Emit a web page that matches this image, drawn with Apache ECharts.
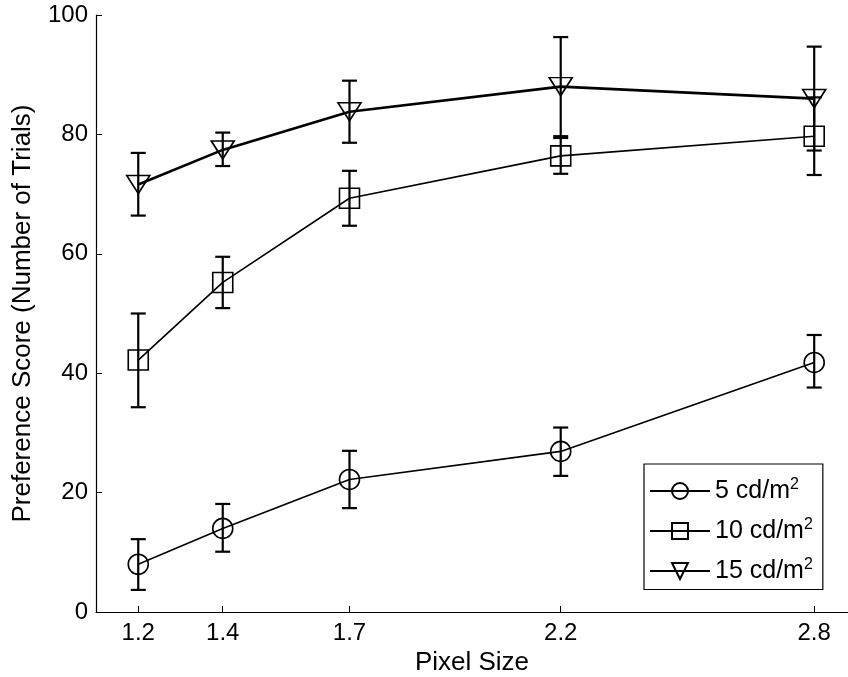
<!DOCTYPE html>
<html>
<head>
<meta charset="utf-8">
<script src="https://cdn.jsdelivr.net/npm/echarts@6/dist/echarts.min.js"></script>
<style>
html, body { margin: 0; padding: 0; background: #fff; }
#chart { width: 848px; height: 677px; }
</style>
</head>
<body>
<div id="chart"></div>
<script>
let pixelSizes = [1.2, 1.4, 1.7, 2.2, 2.8];
let seriesNames = ['5 cd/m', '10 cd/m', '15 cd/m'];

let score5 = [8.0, 14.0, 22.2, 26.9, 41.8];
let low5 = [3.7, 10.1, 17.4, 22.8, 37.6];
let high5 = [12.2, 18.1, 27.0, 30.9, 46.4];

let score10 = [42.2, 55.2, 69.3, 76.4, 79.7];
let low10 = [34.3, 50.9, 64.7, 73.4, 73.2];
let high10 = [50.0, 59.5, 73.9, 79.4, 86.2];

let score15 = [71.6, 77.4, 83.8, 88.0, 86.0];
let low15 = [66.4, 74.7, 78.6, 79.7, 77.3];
let high15 = [76.9, 80.3, 89.0, 96.3, 94.7];

let yTicks = [0, 20, 40, 60, 80, 100];

function pairs(ys) {
    return pixelSizes.map(function (x, i) { return [x, ys[i]]; });
}

function errData(lo, hi) {
    return pixelSizes.map(function (x, i) { return [x, lo[i], hi[i]]; });
}

function renderErr(params, api) {
    let x = api.value(0);
    let p1 = api.coord([x, api.value(1)]);
    let p2 = api.coord([x, api.value(2)]);
    let w = 7.5;
    let st = { stroke: '#000', lineWidth: 2.2 };
    return {
        type: 'group',
        children: [
            { type: 'line', shape: { x1: p1[0], y1: p1[1], x2: p2[0], y2: p2[1] }, style: st },
            { type: 'line', shape: { x1: p1[0] - w, y1: p1[1], x2: p1[0] + w, y2: p1[1] }, style: st },
            { type: 'line', shape: { x1: p2[0] - w, y1: p2[1], x2: p2[0] + w, y2: p2[1] }, style: st }
        ]
    };
}

function errSeries(lo, hi) {
    return {
        type: 'custom',
        renderItem: renderErr,
        data: errData(lo, hi),
        encode: { x: 0, y: [1, 2] },
        silent: true,
        z: 3
    };
}

function lineSeries(name, ys, symbol, size, lw, rotate) {
    return {
        name: name,
        type: 'line',
        data: pairs(ys),
        symbol: symbol,
        symbolSize: size,
        symbolRotate: rotate || 0,
        showAllSymbol: true,
        lineStyle: { color: '#000', width: lw },
        itemStyle: { color: 'rgba(0,0,0,0)', borderColor: '#000', borderWidth: 1.6 },
        emphasis: { disabled: true },
        z: 4
    };
}

let chart = echarts.init(document.getElementById('chart'));
let font = 'Liberation Sans, Arial, sans-serif';

let option = {
    animation: false,
    textStyle: { fontFamily: font },
    grid: { left: 96, right: 0, top: 15, bottom: 65, outerBoundsMode: 'none', containLabel: false },
    xAxis: {
        type: 'value',
        min: 1.1,
        max: 2.88,
        name: 'Pixel Size',
        nameLocation: 'middle',
        nameGap: 34,
        nameTextStyle: { color: '#000', fontSize: 26, fontFamily: font },
        axisLine: { lineStyle: { color: '#000', width: 1.2 } },
        axisTick: { inside: true, length: 6, customValues: pixelSizes, lineStyle: { color: '#000' } },
        axisLabel: {
            customValues: pixelSizes,
            color: '#000', fontSize: 24, margin: 9, fontFamily: font,
            formatter: function (v) { return v.toFixed(1); }
        },
        splitLine: { show: false }
    },
    yAxis: {
        type: 'value',
        min: 0,
        max: 100,
        interval: 20,
        name: 'Preference Score (Number of Trials)',
        nameLocation: 'middle',
        nameGap: 60,
        nameTextStyle: { color: '#000', fontSize: 26, fontFamily: font },
        axisLine: { show: true, lineStyle: { color: '#000', width: 1.2 } },
        axisTick: { show: true, inside: true, length: 6, customValues: yTicks, lineStyle: { color: '#000' } },
        axisLabel: { customValues: yTicks, color: '#000', fontSize: 24, margin: 8, fontFamily: font },
        splitLine: { show: false }
    },
    legend: {
        data: seriesNames,
        orient: 'vertical',
        left: 644,
        top: 464,
        itemWidth: 60,
        itemHeight: 20,
        itemGap: 13.5,
        padding: [13, 10, 6, 5],
        borderColor: '#000',
        borderWidth: 1.2,
        backgroundColor: '#fff',
        selectedMode: false,
        formatter: function (name) { return '{t|' + name + '}{s|2}'; },
        textStyle: {
            rich: {
                t: { fontSize: 25, color: '#000', fontFamily: font },
                s: { fontSize: 16, color: '#000', fontFamily: font, padding: [0, 0, 12, 0] }
            }
        }
    },
    series: [
        lineSeries(seriesNames[0], score5, 'circle', 20, 1.6),
        lineSeries(seriesNames[1], score10, 'rect', 20, 1.6),
        lineSeries(seriesNames[2], score15, 'triangle', [23, 18], 2.6, 180),
        errSeries(low5, high5),
        errSeries(low10, high10),
        errSeries(low15, high15)
    ]
};

chart.setOption(option);
</script>
</body>
</html>
